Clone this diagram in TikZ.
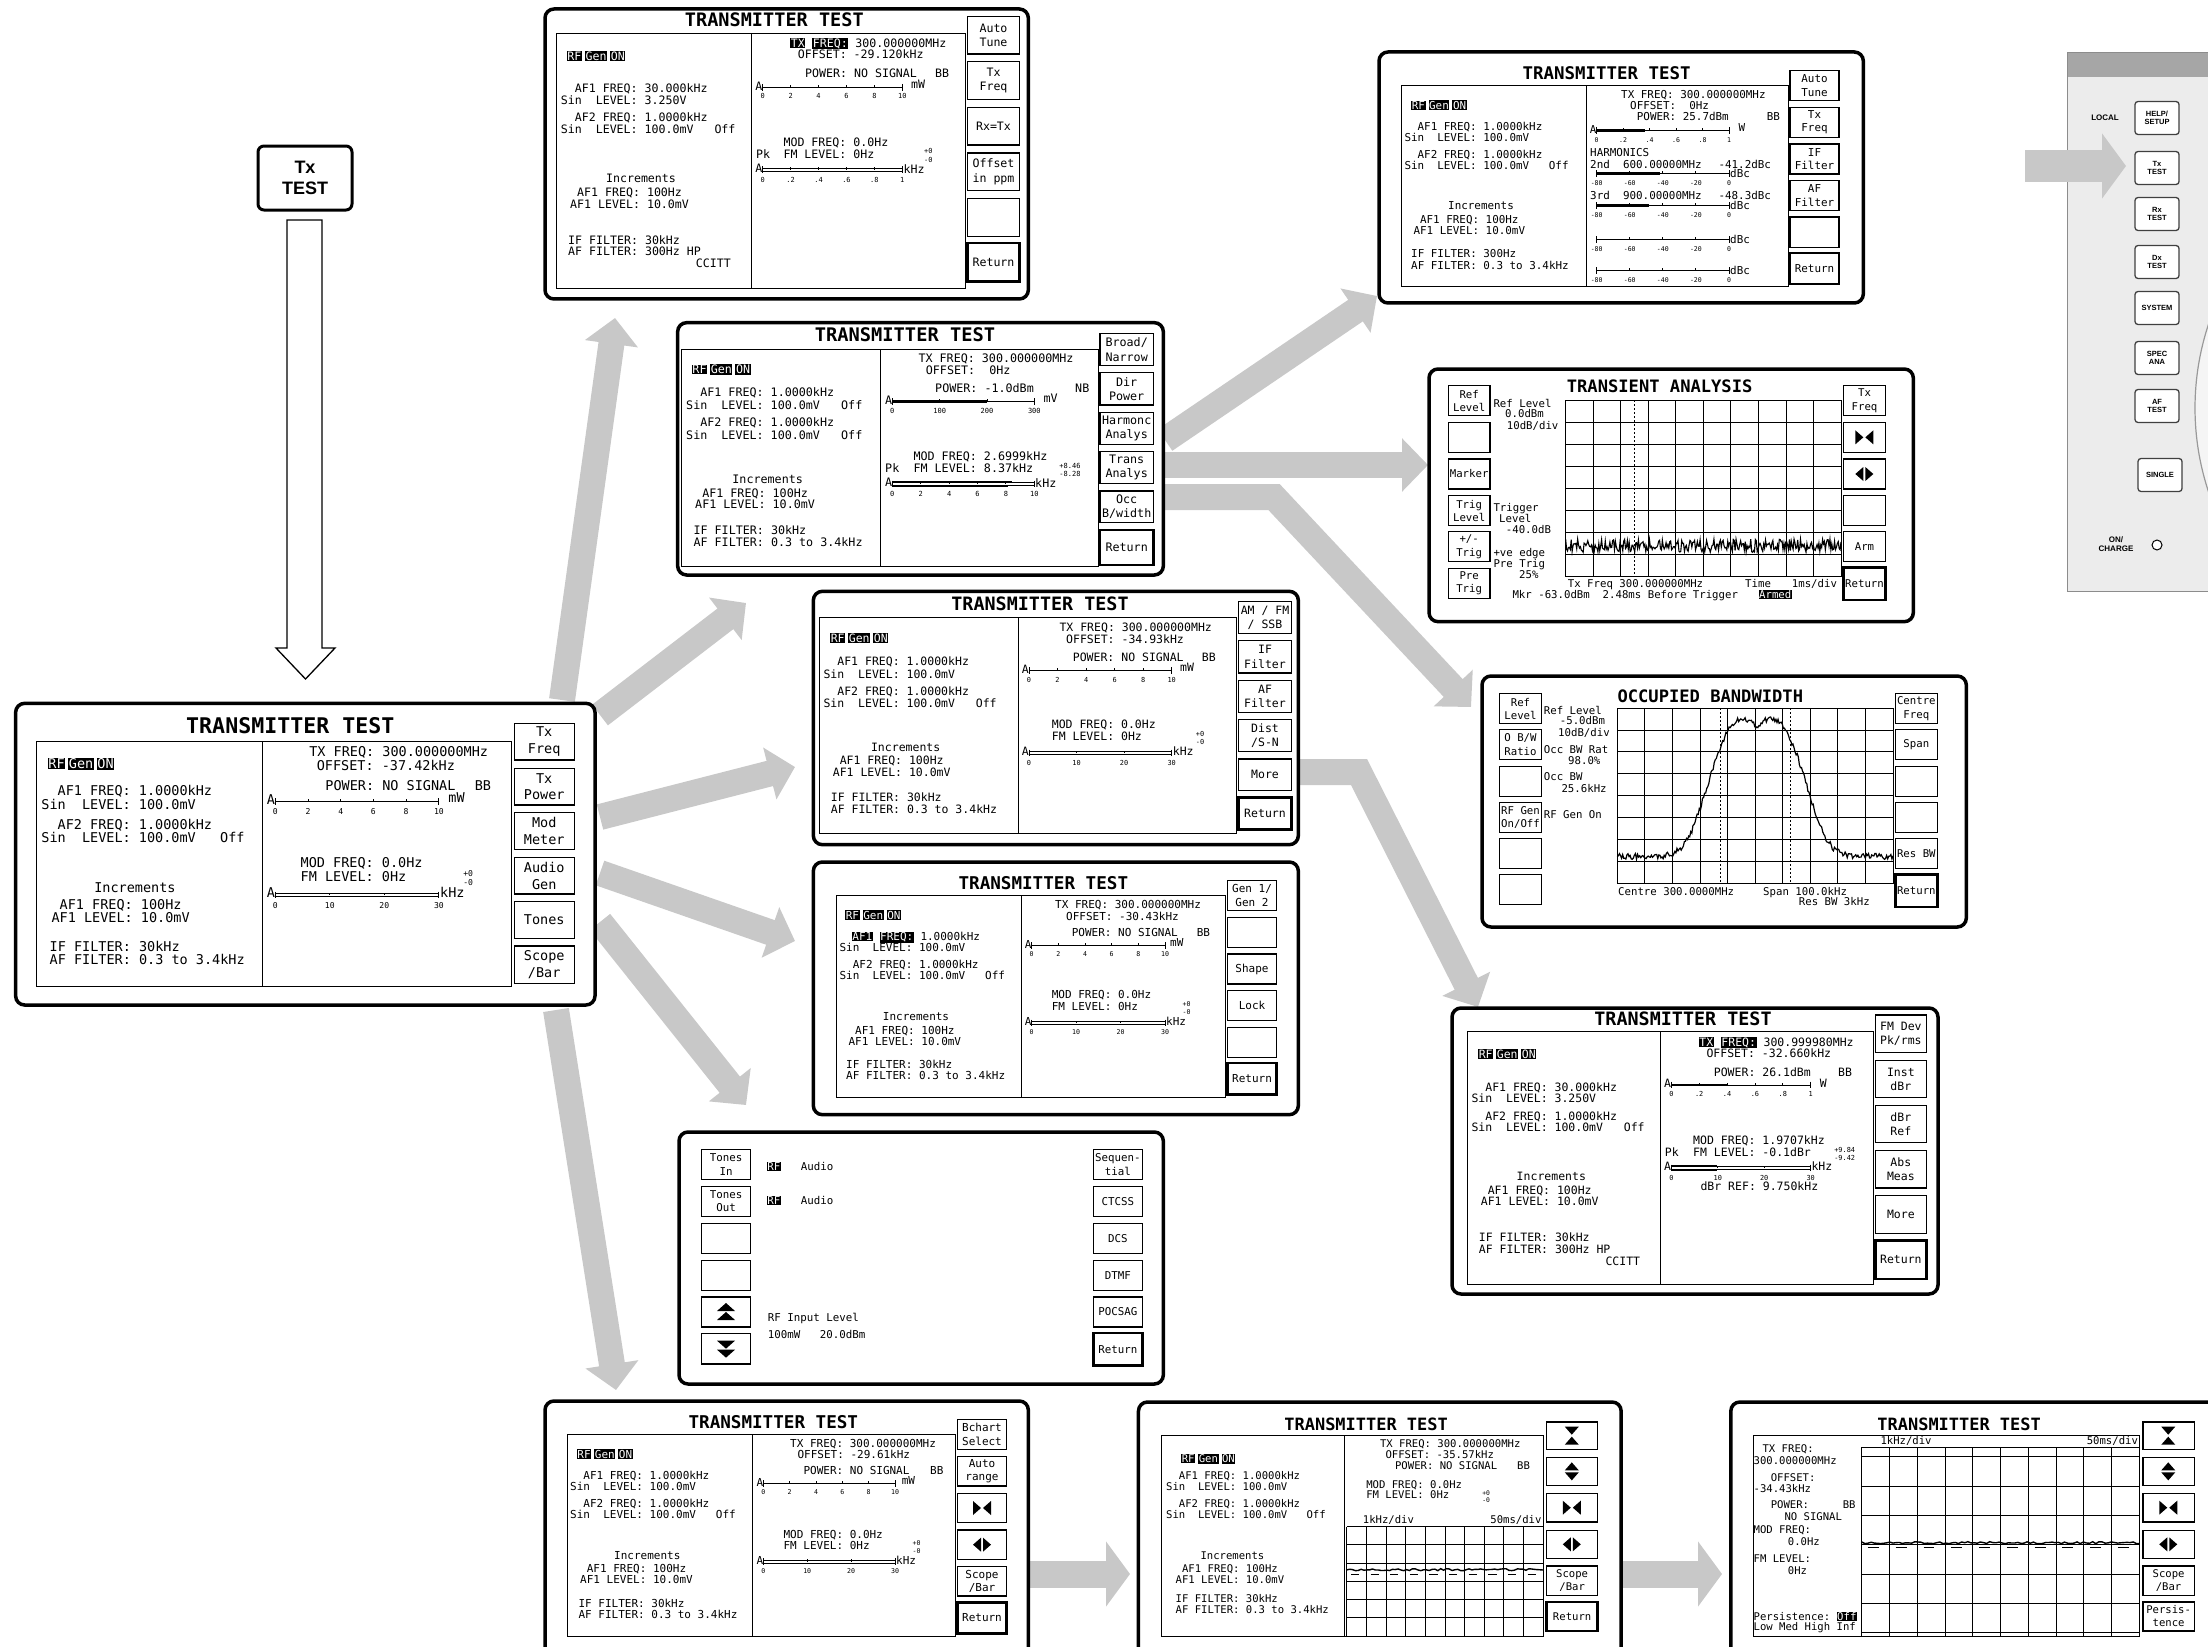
\documentclass[tikz,border=0pt]{standalone}
\usepackage{fontspec}
\setmainfont{DejaVu Sans}
\setsansfont{Liberation Sans}
\setmonofont{DejaVu Sans Mono}
\usetikzlibrary{arrows.meta}
\definecolor{ga}{RGB}{200,200,200}
\definecolor{pan}{RGB}{236,236,236}
\newcommand\setfs[1]{\def\fs{#1}\pgfmathsetmacro\fb{1.23*#1}\pgfmathsetmacro\fsm{0.6*#1}\pgfmathsetmacro\ft{1.6*#1}}
\newcommand\iv[1]{{\setlength\fboxsep{0.6pt}\colorbox{black}{\textcolor{white}{#1}}}}
\newcommand\rfg{\iv{RF}\kern3pt\iv{Gen}\kern3pt\iv{ON}}
\newcommand\sk[5]{\draw[skb] (#1,#3) rectangle (#2,#4); \node[sl] at ({(#1+#2)/2},{(#3+#4)/2}) {#5};}
\newcommand\skr[5]{\draw[skr] (#1,#3) rectangle (#2,#4); \node[sl] at ({(#1+#2)/2},{(#3+#4)/2}) {#5};}
\newcommand\icon[3]{\begin{scope}[shift={(#1,#2)},x=1pt,y=-1pt] #3 \end{scope}}
\newcommand\bowin{\fill (-9,-7)--(-1,0)--(-9,7)--cycle (9,-7)--(1,0)--(9,7)--cycle;}
\newcommand\bowout{\fill (-1,-7)--(-9,0)--(-1,7)--cycle (1,-7)--(9,0)--(1,7)--cycle;}
\newcommand\hgin{\fill (-7,-9)--(7,-9)--(0,-1)--cycle (-7,9)--(7,9)--(0,1)--cycle;}
\newcommand\hgout{\fill (-7,-1)--(7,-1)--(0,-9)--cycle (-7,1)--(7,1)--(0,9)--cycle;}
\newcommand\dup{\fill (-9,-1)--(9,-1)--(0,-9)--cycle (-9,8)--(9,8)--(0,0)--cycle;}
\newcommand\ddn{\fill (-9,1)--(9,1)--(0,9)--cycle (-9,-8)--(9,-8)--(0,0)--cycle;}
\newcommand\barA[2]{\node[t,anchor=mid east] at (#1,#2) {A};}
\newcommand\mbar[7]{%
 \ifnum#7=1 \draw[thinl] (#1,#3-5) -- (#2,#3-5) (#1,#3+5) -- (#2,#3+5);
 \else \draw[thinl] (#1,#3) -- (#2,#3); \fi
 \draw[thinl] (#1,#3-10) -- (#1,#3+10) (#2,#3-10) -- (#2,#3+10);
 \foreach \lb [count=\ii from 0] in {#4} {
   \pgfmathsetmacro\xx{#1+(#2-#1)*\ii/#5}
   \draw[thinl] (\xx,#3) -- (\xx,#3-7);
   \node[tk] at (\xx,#3+#6) {\lb};
 }}
\newcommand\scgrid[6]{%
 \foreach \k in {0,...,#3} {\draw[thinl] ({#1+(#2-#1)*\k/#3},#4) -- ({#1+(#2-#1)*\k/#3},#5);}
 \foreach \k in {0,...,#6} {\draw[thinl] (#1,{#4+(#5-#4)*\k/#6}) -- (#2,{#4+(#5-#4)*\k/#6});}}
\tikzset{
 t/.style={font=\fontsize{\fs}{\fb}\selectfont\ttfamily, inner sep=0pt, anchor=mid west},
 tc/.style={t, anchor=mid},
 tk/.style={font=\fontsize{\fsm}{\fsm}\selectfont\ttfamily, inner sep=0pt, anchor=mid},
 sl/.style={font=\fontsize{\fs}{\fb}\selectfont\ttfamily, inner sep=0pt, align=center, anchor=center},
 ttl/.style={font=\fontsize{\ft}{\ft}\selectfont\ttfamily\bfseries, inner sep=0pt, anchor=mid},
 scrout/.style={line width=3.5pt, rounded corners=9pt, fill=white},
 thinl/.style={line width=0.9pt},
 skb/.style={line width=1.2pt},
 skr/.style={line width=2.8pt},
 garrow/.style={draw=ga, line width=26pt, -{Triangle[length=26pt,width=52pt]}},
 pbtn/.style={draw=black!75, line width=1.3pt, fill=white, rounded corners=3pt, minimum width=44pt, minimum height=33pt, inner sep=0pt, align=center, font=\fontsize{7.5}{8.5}\selectfont\sffamily\bfseries},
}
\begin{document}
\begin{tikzpicture}[x=1pt,y=-1pt]
\setfs{11}
\pgfmathsetseed{7}
\useasboundingbox (0,0) rectangle (2208,1646);
\fill[white] (0,0) rectangle (2208,1646);

% ---- connector end points
\coordinate (m1) at (562,700); \coordinate (sA) at (615,318);
\coordinate (m2) at (600,715); \coordinate (sB) at (746,603);
\coordinate (m3) at (600,817); \coordinate (sD) at (795,767);
\coordinate (m4) at (600,873); \coordinate (sE) at (795,941);
\coordinate (m5) at (600,922); \coordinate (sT) at (746,1105);
\coordinate (m6) at (556,1010); \coordinate (sG) at (616,1390);
\coordinate (b1) at (1165,440); \coordinate (sR) at (1377,296);
\coordinate (b2) at (1165,465); \coordinate (sTr) at (1428,465);
\coordinate (b3) at (1165,497); \coordinate (b3k) at (1274,497); \coordinate (sO) at (1471,707);
\coordinate (d1) at (1298,772); \coordinate (d1k) at (1359,772); \coordinate (sX) at (1478,1007);
\coordinate (g1) at (1030,1574); \coordinate (sH) at (1130,1574);
\coordinate (h1) at (1622,1574); \coordinate (sI) at (1722,1574);
\coordinate (p1) at (2025,166); \coordinate (p2) at (2126,166);

\draw[garrow] (m1) -- (sA);
\draw[garrow] (m2) -- (sB);
\draw[garrow] (m3) -- (sD);
\draw[garrow] (m4) -- (sE);
\draw[garrow] (m5) -- (sT);
\draw[garrow] (m6) -- (sG);
\draw[garrow] (b1) -- (sR);
\draw[garrow] (b2) -- (sTr);
\draw[garrow] (b3) -- (b3k) -- (sO);
\draw[garrow] (d1) -- (d1k) -- (sX);
\draw[draw=ga, line width=27pt, -{Triangle[length=24pt,width=64pt]}] (g1) -- (sH);
\draw[draw=ga, line width=27pt, -{Triangle[length=24pt,width=64pt]}] (h1) -- (sI);

% ---- Tx TEST key and hollow arrow
\node[draw, line width=3pt, rounded corners=6pt, minimum width=94pt, minimum height=64pt, inner sep=0pt, align=center, font=\fontsize{18}{21}\selectfont\sffamily\bfseries] (txt) at (305,178) {Tx\\TEST};
\draw[line width=1.3pt, fill=white] (287,220) -- (322,220) -- (322,648) -- (335,648) -- (305.5,679) -- (276,648) -- (287,648) -- cycle;

% ---- Screen A (top)
\begin{scope}[shift={(540,4)},x=0.33333pt,y=-0.33333pt]
\setfs{11.6}
\draw[scrout] (15,15) rectangle (1465,885);
\draw[thinl] (50,87) rectangle (1277,852) (635,87)--(635,852);
\node[ttl] at (703,58) {TRANSMITTER TEST};
\sk{1283}{1438}{37}{150}{Auto\\Tune}
\sk{1283}{1438}{173}{287}{Tx\\Freq}
\sk{1283}{1438}{310}{423}{Rx=Tx}
\sk{1283}{1438}{447}{560}{Offset\\in ppm}
\sk{1283}{1438}{583}{697}{}
\skr{1283}{1438}{717}{833}{Return}
\node[t] at (80,160) {\rfg};
\node[t] at (62,258) {~~AF1 FREQ: 30.000kHz};
\node[t] at (62,293) {Sin~~LEVEL: 3.250V};
\node[t] at (62,345) {~~AF2 FREQ: 1.0000kHz};
\node[t] at (62,380) {Sin~~LEVEL: 100.0mV~~~Off};
\node[tc] at (303,527) {Increments};
\node[t] at (90,570) {~AF1 FREQ: 100Hz};
\node[t] at (90,604) {AF1 LEVEL: 10.0mV};
\node[t] at (84,713) {IF FILTER: 30kHz};
\node[t] at (84,747) {AF FILTER: 300Hz HP};
\node[t] at (467,782) {CCITT};
\node[t] at (750,121) {\iv{TX}~\iv{FREQ:}~300.000000MHz};
\node[t] at (773,156) {OFFSET: -29.120kHz};
\node[t] at (795,212) {POWER: NO SIGNAL};
\node[t] at (1185,212) {BB};
\barA{668}{250}
\mbar{668}{1087}{250}{0,2,4,6,8,10}{5}{25}{0}
\node[t] at (1113,245) {mW};
\node[t] at (730,418) {MOD FREQ: 0.0Hz};
\node[t] at (648,455) {Pk};
\node[t] at (730,455) {FM LEVEL: 0Hz};
\node[tk] at (1165,440) {+0}; \node[tk] at (1165,467) {-0};
\barA{668}{497}
\mbar{668}{1087}{497}{0,.2,.4,.6,.8,1}{5}{30}{1}
\node[t] at (1090,500) {kHz};
\end{scope}

% ---- Screen B
\begin{scope}[shift={(675,320)},x=0.33333pt,y=-0.33333pt]
\setfs{11.7}
\draw[scrout] (8,8) rectangle (1465,765);
\draw[thinl] (18,87) rectangle (1270,740) (615,87)--(615,740);
\node[ttl] at (690,55) {TRANSMITTER TEST};
\sk{1275}{1435}{40}{137}{Broad/\\Narrow}
\sk{1275}{1435}{158}{255}{Dir\\Power}
\sk{1275}{1435}{277}{373}{Harmonc\\Analys}
\sk{1275}{1435}{395}{490}{Trans\\Analys}
\sk{1275}{1435}{513}{608}{Occ\\B/width}
\skr{1275}{1435}{630}{735}{Return}
\node[t] at (50,153) {\rfg};
\node[t] at (33,222) {~~AF1 FREQ: 1.0000kHz};
\node[t] at (33,260) {Sin~~LEVEL: 100.0mV~~~Off};
\node[t] at (33,312) {~~AF2 FREQ: 1.0000kHz};
\node[t] at (33,350) {Sin~~LEVEL: 100.0mV~~~Off};
\node[tc] at (278,482) {Increments};
\node[t] at (60,523) {~AF1 FREQ: 100Hz};
\node[t] at (60,558) {AF1 LEVEL: 10.0mV};
\node[t] at (55,635) {IF FILTER: 30kHz};
\node[t] at (55,670) {AF FILTER: 0.3 to 3.4kHz};
\node[t] at (730,120) {TX FREQ: 300.000000MHz};
\node[t] at (752,156) {OFFSET:~~0Hz};
\node[t] at (780,210) {POWER: -1.0dBm};
\node[t] at (1200,210) {NB};
\fill (652,241) rectangle (935,249);
\barA{652}{245}
\mbar{652}{1078}{245}{0,100,200,300}{3}{27}{0}
\node[t] at (1105,240) {mV};
\node[t] at (715,412) {MOD FREQ: 2.6999kHz};
\node[t] at (630,450) {Pk};
\node[t] at (715,450) {FM LEVEL: 8.37kHz};
\node[tk] at (1185,437) {+8.46}; \node[tk] at (1185,462) {-8.28};
\fill (652,483) rectangle (1010,490); \fill (652,494) rectangle (1000,501);
\barA{652}{492}
\mbar{652}{1078}{492}{0,2,4,6,8,10}{5}{30}{1}
\node[t] at (1080,495) {kHz};
\end{scope}

% ---- Main screen
\begin{scope}[shift={(10,700)},x=0.3762pt,y=-0.33333pt]
\setfs{13.5}
\draw[scrout] (15,10) rectangle (1555,915);
\draw[thinl] (70,125) rectangle (1333,860) (672,125)--(672,860);
\node[ttl] at (745,92) {TRANSMITTER TEST};
\sk{1340}{1500}{70}{180}{Tx\\Freq}
\sk{1340}{1500}{205}{315}{Tx\\Power}
\sk{1340}{1500}{338}{448}{Mod\\Meter}
\sk{1340}{1500}{472}{582}{Audio\\Gen}
\sk{1340}{1500}{605}{715}{Tones}
\sk{1340}{1500}{738}{850}{Scope\\/Bar}
\node[t] at (100,198) {\rfg};
\node[t] at (83,278) {~~AF1 FREQ: 1.0000kHz};
\node[t] at (83,320) {Sin~~LEVEL: 100.0mV};
\node[t] at (83,380) {~~AF2 FREQ: 1.0000kHz};
\node[t] at (83,420) {Sin~~LEVEL: 100.0mV~~~Off};
\node[tc] at (332,570) {Increments};
\node[t] at (110,620) {~AF1 FREQ: 100Hz};
\node[t] at (110,660) {AF1 LEVEL: 10.0mV};
\node[t] at (105,745) {IF FILTER: 30kHz};
\node[t] at (105,785) {AF FILTER: 0.3 to 3.4kHz};
\node[t] at (795,160) {TX FREQ: 300.000000MHz};
\node[t] at (815,202) {OFFSET: -37.42kHz};
\node[t] at (838,262) {POWER: NO SIGNAL};
\node[t] at (1235,262) {BB};
\barA{705}{305}
\mbar{705}{1140}{305}{0,2,4,6,8,10}{5}{30}{0}
\node[t] at (1165,300) {mW};
\node[t] at (772,493) {MOD FREQ: 0.0Hz};
\node[t] at (772,535) {FM LEVEL: 0Hz};
\node[tk] at (1218,520) {+0}; \node[tk] at (1218,548) {-0};
\barA{705}{585}
\mbar{705}{1140}{585}{0,10,20,30}{3}{33}{1}
\node[t] at (1143,585) {kHz};
\end{scope}

% ---- Screen D
\begin{scope}[shift={(810,588)},x=0.33333pt,y=-0.33333pt]
\setfs{11.5}
\draw[scrout] (10,10) rectangle (1465,770);
\draw[thinl] (28,88) rectangle (1280,735) (625,88)--(625,735);
\node[ttl] at (690,60) {TRANSMITTER TEST};
\sk{1285}{1445}{40}{137}{AM / FM\\/ SSB}
\sk{1285}{1445}{158}{255}{IF\\Filter}
\sk{1285}{1445}{277}{373}{AF\\Filter}
\sk{1285}{1445}{395}{490}{Dist\\/S-N}
\sk{1285}{1445}{513}{608}{More}
\skr{1285}{1445}{628}{725}{Return}
\node[t] at (60,155) {\rfg};
\node[t] at (40,225) {~~AF1 FREQ: 1.0000kHz};
\node[t] at (40,262) {Sin~~LEVEL: 100.0mV};
\node[t] at (40,313) {~~AF2 FREQ: 1.0000kHz};
\node[t] at (40,350) {Sin~~LEVEL: 100.0mV~~~Off};
\node[tc] at (287,482) {Increments};
\node[t] at (68,522) {~AF1 FREQ: 100Hz};
\node[t] at (68,557) {AF1 LEVEL: 10.0mV};
\node[t] at (62,633) {IF FILTER: 30kHz};
\node[t] at (62,668) {AF FILTER: 0.3 to 3.4kHz};
\node[t] at (748,122) {TX FREQ: 300.000000MHz};
\node[t] at (768,157) {OFFSET: -34.93kHz};
\node[t] at (788,212) {POWER: NO SIGNAL};
\node[t] at (1175,212) {BB};
\barA{657}{247}
\mbar{657}{1085}{247}{0,2,4,6,8,10}{5}{27}{0}
\node[t] at (1110,243) {mW};
\node[t] at (725,412) {MOD FREQ: 0.0Hz};
\node[t] at (725,450) {FM LEVEL: 0Hz};
\node[tk] at (1170,437) {+0}; \node[tk] at (1170,462) {-0};
\barA{657}{495}
\mbar{657}{1085}{495}{0,10,20,30}{3}{28}{1}
\node[t] at (1088,495) {kHz};
\end{scope}

% ---- Screen E
\begin{scope}[shift={(810,858)},x=0.33333pt,y=-0.33333pt]
\setfs{11}
\draw[scrout] (10,12) rectangle (1465,770);
\draw[thinl] (78,113) rectangle (1245,718) (633,113)--(633,718);
\node[ttl] at (700,85) {TRANSMITTER TEST};
\sk{1252}{1400}{68}{158}{Gen 1/\\Gen 2}
\sk{1252}{1400}{178}{268}{}
\sk{1252}{1400}{288}{378}{Shape}
\sk{1252}{1400}{398}{488}{Lock}
\sk{1252}{1400}{508}{598}{}
\skr{1252}{1400}{615}{710}{Return}
\node[t] at (105,175) {\rfg};
\node[t] at (125,240) {\iv{AF1}~\iv{FREQ:}~1.0000kHz};
\node[t] at (88,272) {Sin~~LEVEL: 100.0mV};
\node[t] at (88,322) {~~AF2 FREQ: 1.0000kHz};
\node[t] at (88,357) {Sin~~LEVEL: 100.0mV~~~Off};
\node[tc] at (318,480) {Increments};
\node[t] at (115,520) {~AF1 FREQ: 100Hz};
\node[t] at (115,553) {AF1 LEVEL: 10.0mV};
\node[t] at (108,622) {IF FILTER: 30kHz};
\node[t] at (108,657) {AF FILTER: 0.3 to 3.4kHz};
\node[t] at (735,143) {TX FREQ: 300.000000MHz};
\node[t] at (768,178) {OFFSET: -30.43kHz};
\node[t] at (785,228) {POWER: NO SIGNAL};
\node[t] at (1160,228) {BB};
\barA{665}{262}
\mbar{665}{1065}{262}{0,2,4,6,8,10}{5}{25}{0}
\node[t] at (1080,258) {mW};
\node[t] at (725,413) {MOD FREQ: 0.0Hz};
\node[t] at (725,450) {FM LEVEL: 0Hz};
\node[tk] at (1130,437) {+0}; \node[tk] at (1130,462) {-0};
\barA{665}{495}
\mbar{665}{1065}{495}{0,10,20,30}{3}{27}{1}
\node[t] at (1068,495) {kHz};
\end{scope}

% ---- Tones screen
\begin{scope}[shift={(675,1128)},x=0.33333pt,y=-0.33333pt]
\setfs{10.8}
\draw[scrout] (12,12) rectangle (1465,768);
\sk{80}{227}{65}{155}{Tones\\In}
\sk{80}{227}{175}{265}{Tones\\Out}
\sk{80}{227}{287}{377}{}
\sk{80}{227}{397}{487}{}
\sk{80}{227}{507}{597}{}
\sk{80}{227}{617}{708}{}
\icon{153}{552}{\dup}
\icon{153}{662}{\ddn}
\sk{1255}{1402}{65}{155}{Sequen-\\tial}
\sk{1255}{1402}{175}{265}{CTCSS}
\sk{1255}{1402}{287}{377}{DCS}
\sk{1255}{1402}{397}{487}{DTMF}
\sk{1255}{1402}{507}{597}{POCSAG}
\skr{1255}{1402}{615}{712}{Return}
\node[t] at (275,120) {\iv{RF}}; \node[t] at (377,120) {Audio};
\node[t] at (275,220) {\iv{RF}}; \node[t] at (377,220) {Audio};
\node[t] at (278,572) {RF Input Level};
\node[t] at (278,622) {100mW~~~20.0dBm};
\end{scope}

% ---- Bottom 1
\begin{scope}[shift={(540,1396)},x=0.33333pt,y=-0.33333pt]
\setfs{11}
\draw[scrout] (15,15) rectangle (1465,800);
\draw[thinl] (83,115) rectangle (1245,720) (637,115)--(637,720);
\node[ttl] at (700,88) {TRANSMITTER TEST};
\sk{1252}{1400}{70}{160}{Bchart\\Select}
\sk{1252}{1400}{182}{270}{Auto\\range}
\sk{1252}{1400}{292}{380}{} \icon{1326}{336}{\bowin}
\sk{1252}{1400}{402}{490}{} \icon{1326}{446}{\bowout}
\sk{1252}{1400}{512}{600}{Scope\\/Bar}
\skr{1252}{1400}{620}{712}{Return}
\node[t] at (110,178) {\rfg};
\node[t] at (90,242) {~~AF1 FREQ: 1.0000kHz};
\node[t] at (90,275) {Sin~~LEVEL: 100.0mV};
\node[t] at (90,325) {~~AF2 FREQ: 1.0000kHz};
\node[t] at (90,358) {Sin~~LEVEL: 100.0mV~~~Off};
\node[tc] at (322,482) {Increments};
\node[t] at (120,522) {~AF1 FREQ: 100Hz};
\node[t] at (120,553) {AF1 LEVEL: 10.0mV};
\node[t] at (115,625) {IF FILTER: 30kHz};
\node[t] at (115,658) {AF FILTER: 0.3 to 3.4kHz};
\node[t] at (750,145) {TX FREQ: 300.000000MHz};
\node[t] at (772,180) {OFFSET: -29.61kHz};
\node[t] at (790,228) {POWER: NO SIGNAL};
\node[t] at (1170,228) {BB};
\barA{670}{262}
\mbar{670}{1065}{262}{0,2,4,6,8,10}{5}{25}{0}
\node[t] at (1085,258) {mW};
\node[t] at (730,418) {MOD FREQ: 0.0Hz};
\node[t] at (730,452) {FM LEVEL: 0Hz};
\node[tk] at (1130,440) {+0}; \node[tk] at (1130,465) {-0};
\barA{670}{497}
\mbar{670}{1065}{497}{0,10,20,30}{3}{27}{1}
\node[t] at (1068,497) {kHz};
\end{scope}

% ---- Bottom 2 and 3
\begin{scope}[shift={(1133,1396)},x=0.6856pt,y=-0.33333pt]
\setfs{10.6}
\draw[scrout] (8,18) rectangle (712,800);
\draw[thinl] (42,118) rectangle (598,720) (308,118)--(308,720);
\node[ttl] at (340,95) {TRANSMITTER TEST};
\sk{603}{678}{78}{160}{} \icon{640}{119}{\hgin}
\sk{603}{678}{185}{268}{} \icon{640}{226}{\hgout}
\sk{603}{678}{293}{378}{} \icon{640}{335}{\bowin}
\sk{603}{678}{403}{488}{} \icon{640}{445}{\bowout}
\sk{603}{678}{510}{598}{Scope\\/Bar}
\skr{603}{678}{618}{705}{Return}
\node[t] at (70,192) {\rfg};
\node[t] at (48,242) {~~AF1 FREQ: 1.0000kHz};
\node[t] at (48,275) {Sin~~LEVEL: 100.0mV};
\node[t] at (48,325) {~~AF2 FREQ: 1.0000kHz};
\node[t] at (48,358) {Sin~~LEVEL: 100.0mV~~~Off};
\node[tc] at (145,482) {Increments};
\node[t] at (62,522) {~AF1 FREQ: 100Hz};
\node[t] at (62,553) {AF1 LEVEL: 10.0mV};
\node[t] at (62,612) {IF FILTER: 30kHz};
\node[t] at (62,645) {AF FILTER: 0.3 to 3.4kHz};
\node[t] at (360,145) {TX FREQ: 300.000000MHz};
\node[t] at (368,178) {OFFSET: -35.57kHz};
\node[t] at (382,212) {POWER: NO SIGNAL};
\node[t] at (560,212) {BB};
\node[t] at (340,268) {MOD FREQ: 0.0Hz};
\node[t] at (340,298) {FM LEVEL: 0Hz};
\node[tk] at (515,290) {+0}; \node[tk] at (515,310) {-0};
\node[t] at (335,375) {1kHz/div}; \node[t,anchor=mid east] at (596,375) {50ms/div};
\scgrid{312}{598}{10}{392}{720}{6}
\draw[line width=1.4pt] plot[domain=312:598,samples=70] (\x,{521+3*rand});
\foreach \k in {0,...,9} {\draw[line width=1pt] ({318+28.6*\k},536) -- ({330+28.6*\k},536);}
% bottom 3
\draw[scrout] (872,18) rectangle (1620,800);
\draw[thinl] (905,118) rectangle (1468,720);
\node[ttl] at (1205,95) {TRANSMITTER TEST};
\sk{1473}{1548}{78}{160}{} \icon{1510}{119}{\hgin}
\sk{1473}{1548}{185}{268}{} \icon{1510}{226}{\hgout}
\sk{1473}{1548}{293}{378}{} \icon{1510}{335}{\bowin}
\sk{1473}{1548}{403}{488}{} \icon{1510}{445}{\bowout}
\sk{1473}{1548}{510}{598}{Scope\\/Bar}
\sk{1473}{1548}{618}{705}{Persis-\\tence}
\node[t] at (918,162) {TX FREQ:};
\node[t] at (905,197) {300.000000MHz};
\node[t] at (930,247) {OFFSET:};
\node[t] at (905,282) {-34.43kHz};
\node[t] at (930,330) {POWER:}; \node[t] at (1035,330) {BB};
\node[t] at (950,365) {NO SIGNAL};
\node[t] at (905,405) {MOD FREQ:};
\node[t] at (955,440) {0.0Hz};
\node[t] at (905,492) {FM LEVEL:};
\node[t] at (955,528) {0Hz};
\node[t] at (905,665) {Persistence: \iv{Off}};
\node[t] at (905,695) {Low Med High Inf};
\node[t] at (1090,136) {1kHz/div}; \node[t,anchor=mid east] at (1466,136) {50ms/div};
\foreach \k in {0,...,10} {\draw[thinl] ({1063+40.5*\k},153) -- ({1063+40.5*\k},720);}
\foreach \yy in {153,182,270,358,446,534,622,710} {\draw[thinl] (1063,\yy) -- (1468,\yy);}
\draw[line width=1.4pt] plot[domain=1063:1468,samples=90] (\x,{440+3*rand});
\foreach \k in {0,...,9} {\draw[line width=1pt] ({1072+40.5*\k},454) -- ({1088+40.5*\k},454);}
\end{scope}

% ---- Right top screen (harmonics)
\begin{scope}[shift={(1375,48)},x=0.33333pt,y=-0.33333pt]
\setfs{10.9}
\draw[scrout] (12,12) rectangle (1465,765);
\draw[thinl] (80,112) rectangle (1240,715) (633,112)--(633,715);
\node[ttl] at (695,85) {TRANSMITTER TEST};
\sk{1245}{1392}{68}{158}{Auto\\Tune}
\sk{1245}{1392}{178}{268}{Tx\\Freq}
\sk{1245}{1392}{288}{378}{IF\\Filter}
\sk{1245}{1392}{397}{488}{AF\\Filter}
\sk{1245}{1392}{507}{598}{}
\skr{1245}{1392}{615}{708}{Return}
\node[t] at (108,175) {\rfg};
\node[t] at (88,240) {~~AF1 FREQ: 1.0000kHz};
\node[t] at (88,272) {Sin~~LEVEL: 100.0mV};
\node[t] at (88,322) {~~AF2 FREQ: 1.0000kHz};
\node[t] at (88,355) {Sin~~LEVEL: 100.0mV~~~Off};
\node[tc] at (318,477) {Increments};
\node[t] at (115,518) {~AF1 FREQ: 100Hz};
\node[t] at (115,550) {AF1 LEVEL: 10.0mV};
\node[t] at (108,620) {IF FILTER: 300Hz};
\node[t] at (108,655) {AF FILTER: 0.3 to 3.4kHz};
\node[t] at (738,142) {TX FREQ: 300.000000MHz};
\node[t] at (765,175) {OFFSET:~~0Hz};
\node[t] at (785,208) {POWER: 25.7dBm};
\node[t] at (1175,208) {BB};
\fill (665,243) rectangle (810,251);
\barA{665}{247}
\mbar{665}{1062}{247}{0,.2,.4,.6,.8,1}{5}{27}{0}
\node[t] at (1090,243) {W};
\node[t] at (645,318) {HARMONICS};
\node[t] at (645,352) {2nd~~600.00000MHz}; \node[t] at (1030,352) {-41.2dBc};
\fill (665,373) rectangle (855,381);
\mbar{665}{1062}{377}{-80,-60,-40,-20,0}{4}{27}{0} \node[t] at (1065,380) {dBc};
\node[t] at (645,445) {3rd~~900.00000MHz}; \node[t] at (1030,445) {-48.3dBc};
\fill (665,469) rectangle (822,477);
\mbar{665}{1062}{473}{-80,-60,-40,-20,0}{4}{27}{0} \node[t] at (1065,476) {dBc};
\mbar{665}{1062}{575}{-80,-60,-40,-20,0}{4}{27}{0} \node[t] at (1065,578) {dBc};
\mbar{665}{1062}{668}{-80,-60,-40,-20,0}{4}{27}{0} \node[t] at (1065,671) {dBc};
\end{scope}

% ---- Transient analysis
\begin{scope}[shift={(1425,365)},x=0.33333pt,y=-0.33333pt]
\setfs{10.7}
\draw[scrout] (12,12) rectangle (1465,770);
\sk{70}{195}{62}{152}{Ref\\Level}
\sk{70}{195}{172}{262}{}
\sk{70}{195}{282}{372}{Marker}
\sk{70}{195}{392}{482}{Trig\\Level}
\sk{70}{195}{500}{590}{+/-\\Trig}
\sk{70}{195}{610}{700}{Pre\\Trig}
\sk{1255}{1382}{62}{152}{Tx\\Freq}
\sk{1255}{1382}{172}{262}{} \icon{1318}{217}{\bowin}
\sk{1255}{1382}{282}{372}{} \icon{1318}{327}{\bowout}
\sk{1255}{1382}{392}{482}{}
\sk{1255}{1382}{500}{590}{Arm}
\skr{1255}{1382}{608}{705}{Return}
\node[ttl,anchor=mid west] at (425,75) {TRANSIENT ANALYSIS};
\scgrid{422}{1248}{10}{105}{635}{8}
\draw[thinl, dash pattern=on 2pt off 2pt] (628,105) -- (628,635);
\draw[thinl, dash pattern=on 5pt off 5pt] (835,105) -- (835,635);
\draw[line width=1.1pt] plot[domain=422:1248,samples=300] (\x,{542+20*rand});
\node[t] at (205,118) {Ref Level};
\node[t] at (240,150) {0.0dBm};
\node[t] at (245,185) {10dB/div};
\node[t] at (205,432) {Trigger};
\node[t] at (222,465) {Level};
\node[t] at (242,497) {-40.0dB};
\node[t] at (205,565) {+ve edge};
\node[t] at (205,598) {Pre Trig};
\node[t] at (282,632) {25\%};
\node[t] at (428,660) {Tx Freq 300.000000MHz};
\node[t] at (960,660) {Time};
\node[t] at (1100,660) {1ms/div};
\node[t] at (262,692) {Mkr -63.0dBm~~2.48ms Before Trigger};
\node[t] at (1000,692) {\iv{Armed}};
\end{scope}

% ---- Occupied bandwidth
\begin{scope}[shift={(1478,672)},x=0.33333pt,y=-0.33333pt]
\setfs{10.7}
\draw[scrout] (12,12) rectangle (1465,765);
\sk{65}{190}{65}{155}{Ref\\Level}
\sk{65}{190}{173}{263}{O B/W\\Ratio}
\sk{65}{190}{283}{373}{}
\sk{65}{190}{392}{482}{RF Gen\\On/Off}
\sk{65}{190}{500}{590}{}
\sk{65}{190}{608}{698}{}
\sk{1252}{1378}{65}{155}{Centre\\Freq}
\sk{1252}{1378}{173}{263}{Span}
\sk{1252}{1378}{283}{373}{}
\sk{1252}{1378}{392}{482}{}
\sk{1252}{1378}{500}{590}{Res BW}
\skr{1252}{1378}{607}{705}{Return}
\node[ttl,anchor=mid west] at (418,82) {OCCUPIED BANDWIDTH};
\scgrid{418}{1245}{10}{108}{635}{8}
\draw[thinl, dash pattern=on 2pt off 2pt] (727,108) -- (727,635) (937,108) -- (937,635);
\draw[thinl, dash pattern=on 5pt off 5pt] (832,108) -- (832,635);
\draw[line width=1.2pt] plot[domain=418:1245,samples=260] (\x,{553-422*exp(-min(pow((abs(\x-837)+0.1)/167,3.3),9))+32*exp(-min(((\x-837)/26)*((\x-837)/26),9))+9*rand});
\node[t] at (197,118) {Ref Level};
\node[t] at (245,150) {-5.0dBm};
\node[t] at (240,185) {10dB/div};
\node[t] at (197,235) {Occ BW Rat};
\node[t] at (270,268) {98.0\%};
\node[t] at (197,318) {Occ BW};
\node[t] at (250,352) {25.6kHz};
\node[t] at (197,432) {RF Gen On};
\node[t] at (420,662) {Centre 300.0000MHz};
\node[t] at (855,662) {Span 100.0kHz};
\node[t] at (962,692) {Res BW 3kHz};
\end{scope}

% ---- Right TX screen
\begin{scope}[shift={(1448,1004)},x=0.33333pt,y=-0.33333pt]
\setfs{11.5}
\draw[scrout] (12,12) rectangle (1470,870);
\draw[thinl] (58,82) rectangle (1275,842) (637,82)--(637,842);
\node[ttl] at (705,55) {TRANSMITTER TEST};
\sk{1282}{1435}{33}{145}{FM Dev\\Pk/rms}
\sk{1282}{1435}{170}{280}{Inst\\dBr}
\sk{1282}{1435}{305}{415}{dBr\\Ref}
\sk{1282}{1435}{440}{552}{Abs\\Meas}
\sk{1282}{1435}{575}{688}{More}
\skr{1282}{1435}{710}{825}{Return}
\node[t] at (90,155) {\rfg};
\node[t] at (70,253) {~~AF1 FREQ: 30.000kHz};
\node[t] at (70,288) {Sin~~LEVEL: 3.250V};
\node[t] at (70,340) {~~AF2 FREQ: 1.0000kHz};
\node[t] at (70,375) {Sin~~LEVEL: 100.0mV~~~Off};
\node[tc] at (310,520) {Increments};
\node[t] at (98,562) {~AF1 FREQ: 100Hz};
\node[t] at (98,597) {AF1 LEVEL: 10.0mV};
\node[t] at (92,705) {IF FILTER: 30kHz};
\node[t] at (92,740) {AF FILTER: 300Hz HP};
\node[t] at (472,775) {CCITT};
\node[t] at (752,118) {\iv{TX}~\iv{FREQ:}~300.999980MHz};
\node[t] at (775,153) {OFFSET: -32.660kHz};
\node[t] at (797,208) {POWER: 26.1dBm};
\node[t] at (1170,208) {BB};
\fill (670,239) rectangle (838,247);
\barA{670}{243}
\mbar{670}{1088}{243}{0,.2,.4,.6,.8,1}{5}{27}{0}
\node[t] at (1115,243) {W};
\node[t] at (735,412) {MOD FREQ: 1.9707kHz};
\node[t] at (650,448) {Pk};
\node[t] at (735,448) {FM LEVEL: -0.1dBr};
\node[tk] at (1190,437) {+9.84}; \node[tk] at (1190,462) {-9.42};
\fill (670,483) rectangle (808,490); \fill (670,494) rectangle (808,501);
\barA{670}{492}
\mbar{670}{1088}{492}{0,10,20,30}{3}{28}{1}
\node[t] at (1090,492) {kHz};
\node[t] at (757,552) {dBr REF: 9.750kHz};
\end{scope}

% ---- Front panel
\fill[pan] (2067,53) rectangle (2215,591);
\begin{scope}
\clip (2067,53) rectangle (2215,591);
\draw[black!40, line width=1.2pt, fill=white!50!pan] (2460,408) circle (265);
\end{scope}
\fill[black!35] (2067,53) rectangle (2215,77);
\draw[black!45, line width=1pt] (2215,53) -- (2067,53) -- (2067,591) -- (2215,591);
\draw[draw=ga, line width=32pt, -{Triangle[length=24pt,width=64pt]}] (p1) -- (p2);
\node[font=\fontsize{8}{9}\selectfont\sffamily\bfseries] (loc) at (2105,118) {LOCAL};
\node[pbtn] (bhelp) at (2157,118) {HELP/\\SETUP};
\node[pbtn] (btx) at (2157,168) {Tx\\TEST};
\node[pbtn] (brx) at (2157,214) {Rx\\TEST};
\node[pbtn] (bdx) at (2157,262) {Dx\\TEST};
\node[pbtn] (bsys) at (2157,308) {SYSTEM};
\node[pbtn] (bspec) at (2157,358) {SPEC\\ANA};
\node[pbtn] (baf) at (2157,406) {AF\\TEST};
\node[pbtn] (bsing) at (2160,475) {SINGLE};
\node[align=center, font=\fontsize{8}{9}\selectfont\sffamily\bfseries] (onc) at (2116,544) {ON/\\CHARGE};
\draw[line width=1pt, fill=white] (2157,545) circle (5);
\end{tikzpicture}
\end{document}
